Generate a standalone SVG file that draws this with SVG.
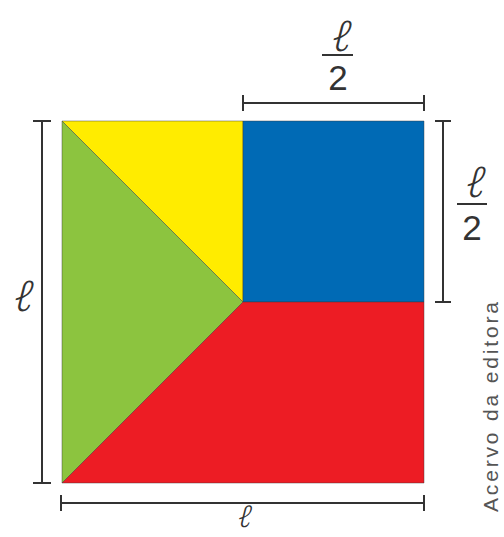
<svg xmlns="http://www.w3.org/2000/svg" width="504" height="537" viewBox="0 0 504 537">
<style>
.piece{stroke:#3a3a3a;stroke-width:0.8;stroke-opacity:0.55;stroke-linejoin:miter}
.dim{stroke:#333;stroke-width:2;fill:none}
.lab{font-family:"Liberation Sans","DejaVu Sans",sans-serif;fill:#333;text-anchor:middle}
.ell{font-family:"Noto Sans","DejaVu Sans",sans-serif;font-weight:300;fill:#333;text-anchor:middle}
.bar{stroke:#333;stroke-width:2}
.credit{font-family:"Liberation Sans","DejaVu Sans",sans-serif;fill:#555;font-size:21px}
</style>
<rect width="504" height="537" fill="#ffffff"/>
<g id="yellow-triangle"><polygon class="piece" points="62,121 243,121 243,302" fill="#FFEC00"/></g>
<g id="green-triangle"><polygon class="piece" points="62,121 243,302 62,483" fill="#8CC43F"/></g>
<g id="blue-square"><polygon class="piece" points="243,121 424,121 424,302 243,302" fill="#006AB5"/></g>
<g id="red-trapezoid"><polygon class="piece" points="243,302 424,302 424,483 62,483" fill="#ED1C24"/></g>
<g id="connectors">
<path class="dim" d="M243,103H424M243,95V111M424,95V111"/>
<path class="dim" d="M443,121V302M435,121H451M435,302H451"/>
<path class="dim" d="M42,121V483M33,121H51M33,483H51"/>
<path class="dim" d="M61,503H424M61,495V511M424,495V511"/>
</g>
<g id="label-top">
<text class="ell" transform="translate(339,51) skewX(-14)" font-size="42">ℓ</text>
<line class="bar" x1="322" y1="55" x2="353" y2="55"/>
<text class="lab" x="338" y="90" font-size="35">2</text>
</g>
<g id="label-right">
<text class="ell" transform="translate(473,197) skewX(-14)" font-size="42">ℓ</text>
<line class="bar" x1="457" y1="204" x2="487" y2="204"/>
<text class="lab" x="472" y="240" font-size="35">2</text>
</g>
<g id="label-left"><text class="ell" transform="translate(21,311) skewX(-14)" font-size="42">ℓ</text></g>
<g id="label-bottom"><text class="ell" transform="translate(243,527) skewX(-14)" font-size="30">ℓ</text></g>
<text class="credit" transform="translate(498,512) rotate(-90)" textLength="210" lengthAdjust="spacing">Acervo da editora</text>
</svg>
